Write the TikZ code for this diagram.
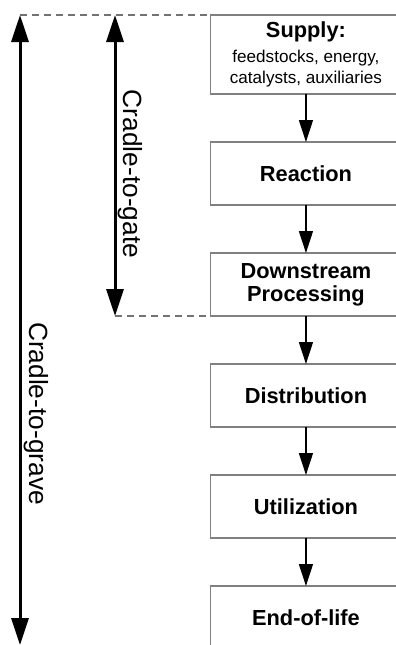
\documentclass[tikz,border=0pt]{standalone}
\usepackage{fontspec}
\setmainfont{Liberation Sans}
\usetikzlibrary{arrows.meta,positioning}

\begin{document}
\begin{tikzpicture}[x=1pt,y=-1pt,
		stage/.style={draw=black!50, line width=1.3pt, minimum width=190.5pt, minimum height=63pt, align=center, inner sep=0pt, outer sep=0pt, font=\bfseries\fontsize{21.8}{23}\selectfont},
		flow/.style={-{Triangle[width=14pt,length=22pt]}, line width=1.4pt},
		span/.style={{Triangle[width=17pt,length=27pt]}-{Triangle[width=17pt,length=27pt]}, line width=3pt},
		guide/.style={draw=black!55, line width=1.3pt, dash pattern=on 7pt off 5pt},
		spanlbl/.style={rotate=-90, font=\fontsize{26.3}{28}\selectfont}]
			\clip (0,0) rectangle (396,645);
			% life cycle stages
			\node[stage, minimum height=79pt, anchor=north west, font=\fontsize{17.1}{21.5}\selectfont] (supply) at (210.7,15)
				{{\bfseries\fontsize{21.8}{23}\selectfont Supply:}\\[3pt] feedstocks, energy,\\ catalysts, auxiliaries};
			\node[stage, below=48pt of supply] (reaction) {Reaction};
			\node[stage, below=48pt of reaction] (downstream) {Downstream\\Processing};
			\node[stage, below=48pt of downstream] (distribution) {Distribution};
			\node[stage, below=48pt of distribution] (utilization) {Utilization};
			\node[stage, below=48pt of utilization] (endoflife) {End-of-life};
			\draw[flow] (supply) -- (reaction);
			\draw[flow] (reaction) -- (downstream);
			\draw[flow] (downstream) -- (distribution);
			\draw[flow] (distribution) -- (utilization);
			\draw[flow] (utilization) -- (endoflife);
			% system boundaries
			\coordinate (gravetop) at (20,15);
			\coordinate (gravebot) at (20,645);
			\coordinate (gatetop) at (115,15);
			\coordinate (gatebot) at (gatetop |- downstream.south);
			\draw[guide] (gravetop) -- (supply.north west);
			\draw[guide] (gatebot) -- (downstream.south west);
			\draw[span] (gatetop) -- (gatebot);
			\draw[span] (gravetop) -- (gravebot);
			\node[spanlbl] (gatelbl) at (130.5,174) {Cradle-to-gate};
			\node[spanlbl] (gravelbl) at (36,413.5) {Cradle-to-grave};
		\end{tikzpicture}
\end{document}
